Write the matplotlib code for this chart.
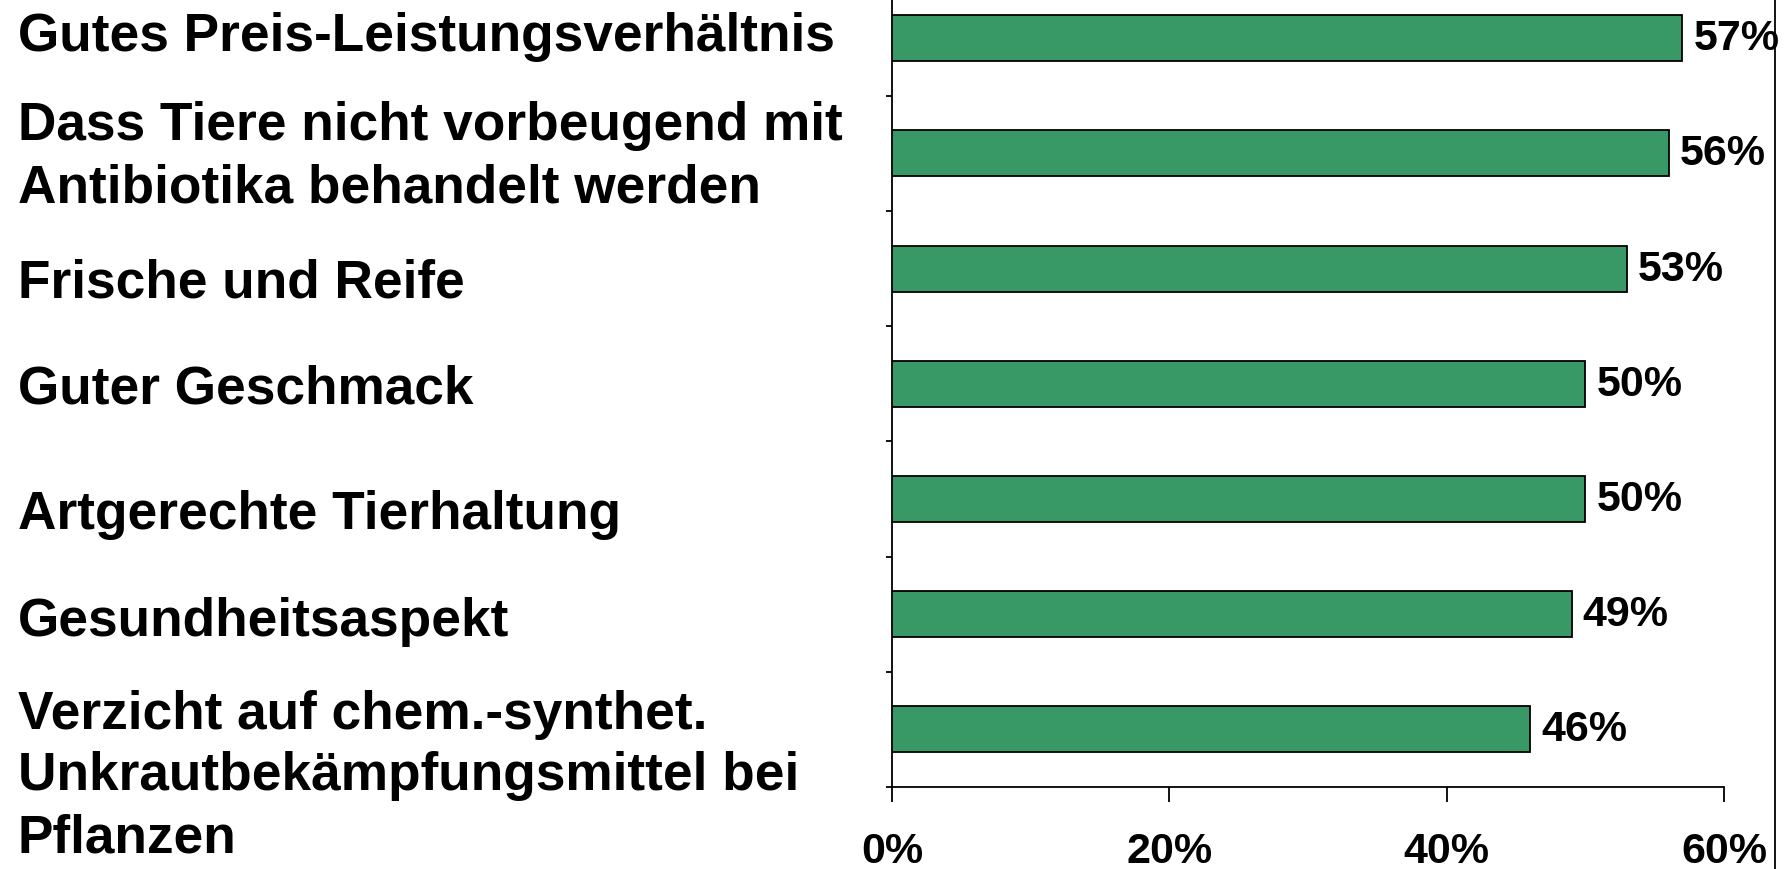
import matplotlib.pyplot as plt
from matplotlib.lines import Line2D
from matplotlib.transforms import blended_transform_factory
import numpy as np

# Daten (von oben nach unten)
kategorien = [
    "Gutes Preis-Leistungsverhältnis",
    "Dass Tiere nicht vorbeugend mit\nAntibiotika behandelt werden",
    "Frische und Reife",
    "Guter Geschmack",
    "Artgerechte Tierhaltung",
    "Gesundheitsaspekt",
    "Verzicht auf chem.-synthet.\nUnkrautbekämpfungsmittel bei\nPflanzen",
]
werte = [57, 56, 53, 50, 50, 49, 46]
x_ticks = [0, 20, 40, 60]
x_ticklabels = ["0%", "20%", "40%", "60%"]

# vertikale Verschiebung der Beschriftungen (in Kategorie-Einheiten)
label_versatz = [-0.02, 0.025, 0.12, 0.04, 0.13, 0.06, 0.40]

plt.rcParams['font.family'] = ['Liberation Sans', 'DejaVu Sans']
plt.rcParams['font.weight'] = 'bold'

fig = plt.figure(figsize=(17.89, 8.70), dpi=100)
ax = fig.add_axes([0.4986, 0.0943, 0.4651, 0.9057])

y = np.arange(len(werte))
ax.barh(y, werte, height=0.4, color="#389966", edgecolor="black",
        linewidth=1.3, zorder=3)

for yi, v in zip(y, werte):
    ax.text(v + 0.8, yi, f"{v}%", va="center", ha="left", fontsize=31,
            fontweight="bold", clip_on=False)

ax.set_xlim(0, 60)
ax.set_ylim(len(werte) - 0.5, -0.34)

ax.set_xticks(x_ticks)
ax.set_xticklabels(x_ticklabels, fontsize=31, fontweight="bold")
ax.tick_params(axis="x", direction="out", length=11, width=1.3, pad=21)

ax.set_yticks([])
ax.set_yticks(np.arange(len(werte)) + 0.5, minor=True)
ax.tick_params(axis="y", which="minor", direction="out", length=4, width=1.3)

for s in ("top", "right"):
    ax.spines[s].set_visible(False)
for s in ("left", "bottom"):
    ax.spines[s].set_linewidth(1.3)

# Kategorienbeschriftung linksbündig am Bildrand
trans = blended_transform_factory(fig.transFigure, ax.transData)
for yi, txt, off in zip(y, kategorien, label_versatz):
    ax.text(0.01, yi + off, txt, transform=trans, ha="left", va="center",
            fontsize=38.3, fontweight="bold", linespacing=1.3, clip_on=False)

# senkrechte Linie am rechten Rand
fig.add_artist(Line2D([0.992, 0.992], [0, 1], transform=fig.transFigure,
                      color="black", linewidth=1.3))

fig.savefig("out.png", dpi=100)
